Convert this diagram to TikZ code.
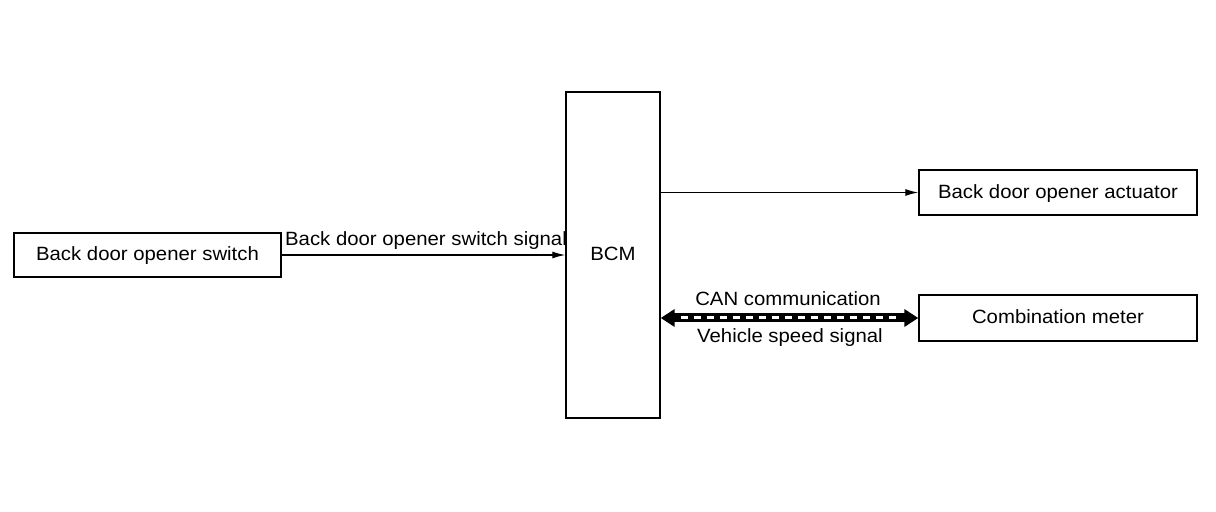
\documentclass[tikz,border=0pt]{standalone}
\usepackage{fontspec}
\setmainfont[FakeStretch=1.06]{Liberation Sans}
\usetikzlibrary{arrows.meta}
\begin{document}
\begin{tikzpicture}[x=0.5pt,y=-0.5pt,
  blk/.style={draw,line width=0.7pt,inner sep=0pt,text height=8pt,text depth=2pt,font=\fontsize{9.6}{11}\selectfont},
  lbl/.style={inner sep=0pt,text height=8pt,text depth=2pt,font=\fontsize{9.6}{11}\selectfont},
  sig/.style={line width=0.6pt,-{Latex[length=6.5pt,width=3.5pt]}}]
\useasboundingbox (0,0) rectangle (1216,512);
\node[blk,minimum width=133.5pt,minimum height=22pt] (sw) at (147.5,255) {Back door opener switch};
\node[blk,minimum width=47pt,minimum height=163pt] (bcm) at (613,255) {BCM};
\node[blk,minimum width=139pt,minimum height=22.5pt] (act) at (1058,192.5) {Back door opener actuator};
\node[blk,minimum width=139pt,minimum height=23pt] (cm) at (1058,318) {Combination meter};
\draw[sig] (sw.east) -- (bcm.west |- sw.east);
\node[lbl] (swl) at (426,240) {Back door opener switch signal};
\coordinate (bo) at (bcm.east |- act.west);
\draw[sig] (bo) -- (act.west);
\coordinate (bc) at (bcm.east |- cm.west);
\draw[line width=4.5pt,{Triangle[length=7pt,width=8.5pt]}-{Triangle[length=7pt,width=8.5pt]}] (bc) -- (cm.west);
\draw[white,line width=1.5pt,dash pattern=on 3.5pt off 3pt,dash phase=-1pt] ([xshift=9pt]bc) -- ([xshift=-9pt]cm.west);
\node[lbl] (canl) at (788,300) {CAN communication};
\node[lbl] (vsl) at (790,337) {Vehicle speed signal};
\end{tikzpicture}
\end{document}
